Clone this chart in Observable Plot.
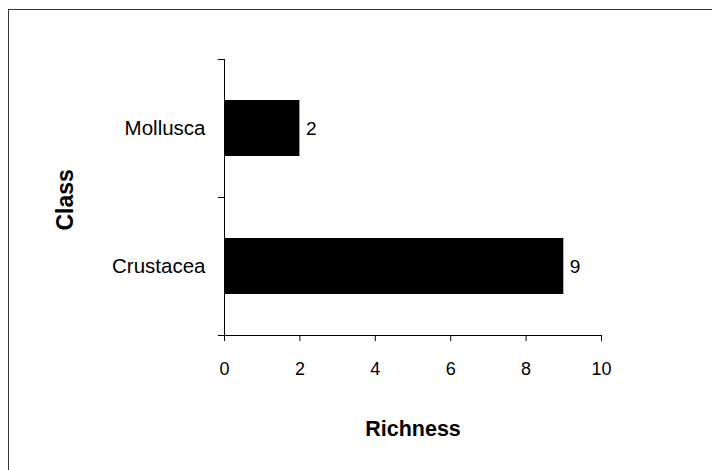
<!DOCTYPE html>
<html>
<head>
<meta charset="utf-8">
<script src="https://cdn.jsdelivr.net/npm/d3@7"></script>
<script src="https://cdn.jsdelivr.net/npm/@observablehq/plot@0.6"></script>
<style>
  html, body { margin: 0; padding: 0; background: #fff; overflow: hidden; }
  #wrap { position: relative; width: 712px; height: 470px; overflow: hidden; }
  #frame { position: absolute; left: 8px; top: 9px; width: 720px; height: 480px;
           border-top: 1.5px solid #3a3a3a; border-left: 1.5px solid #3a3a3a; box-sizing: border-box; pointer-events: none; }
  svg { display: block; }
</style>
</head>
<body>
<div id="wrap"><div id="frame"></div></div>
<script>
const classes = ["Crustacea", "Mollusca"];
const richness = [9, 2];
const xTicks = [0, 2, 4, 6, 8, 10];
const xTitle = "Richness";
const yTitle = "Class";

const data = classes.map((c, i) => ({cls: c, value: richness[i], pos: i}));
const font = "'Liberation Sans', Arial, sans-serif";

const chart = Plot.plot({
  width: 712,
  height: 470,
  marginLeft: 224,
  marginRight: 111,
  marginTop: 59,
  marginBottom: 135,
  style: {fontFamily: font, background: "transparent", color: "#000"},
  x: {domain: [0, 10]},
  y: {domain: [0, classes.length]},
  marks: [
    Plot.rectX(data, {x1: 0, x2: "value", y1: d => d.pos, y2: d => d.pos + 1,
      insetTop: 41, insetBottom: 41, fill: "#000"}),
    Plot.ruleY([0], {x1: 0, x2: 10, stroke: "#000", strokeWidth: 1}),
    Plot.ruleX([0], {y1: 0, y2: classes.length, stroke: "#000", strokeWidth: 1}),
    Plot.axisX({ticks: xTicks, tickSize: 6, tickPadding: 21, fontSize: 18, label: null, stroke: "#000"}),
    Plot.axisY({ticks: d3.range(classes.length + 1), tickSize: 6, tickFormat: () => "", label: null, stroke: "#000"}),
    Plot.axisY({ticks: classes.map((c, i) => i + 0.5), tickSize: 0, tickPadding: 19,
      tickFormat: d => classes[Math.floor(d)], fontSize: 20.5, label: null}),
    Plot.text(data, {x: "value", y: d => d.pos + 0.5, text: d => String(d.value),
      textAnchor: "start", dx: 6, fontSize: 19, fill: "#000"}),
    Plot.text([xTitle], {frameAnchor: "bottom", text: d => d, dy: 100, lineAnchor: "bottom",
      fontSize: 21.5, fontWeight: "bold", fill: "#000"}),
    Plot.text([yTitle], {frameAnchor: "left", text: d => d, rotate: -90, dx: -158.5, dy: 33,
      lineAnchor: "middle", fontSize: 23, fontWeight: "bold", fill: "#000"})
  ]
});
document.getElementById("wrap").prepend(chart);
</script>
</body>
</html>
